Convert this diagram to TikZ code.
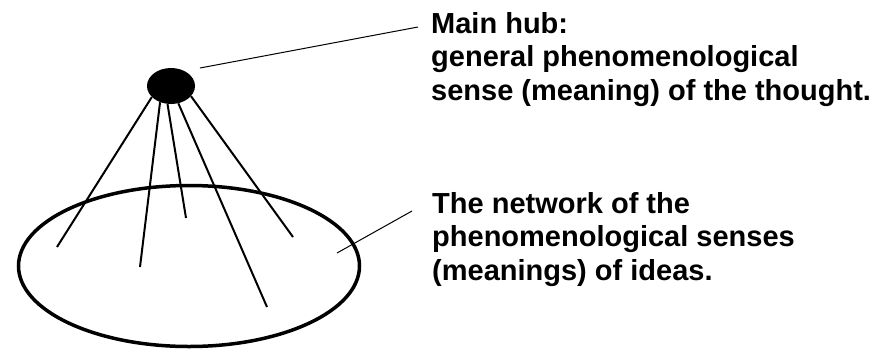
\documentclass[tikz,border=0pt]{standalone}
\usepackage{fontspec}
\setmainfont{Liberation Sans}
\usetikzlibrary{shapes.geometric}
\tikzset{
  spoke/.style = {line width = 2pt},
  leader/.style = {line width = 1pt},
  caption/.style = {font = \fontsize{29}{33.5}\selectfont\bfseries, align = left,
    anchor = north west, inner sep = 0pt}
}
\begin{document}
\begin{tikzpicture}[x = 1pt, y = -1pt]
  \useasboundingbox (0,0) rectangle (885,354);
  % the network and its main hub
  \node [ellipse, draw, line width = 3.5pt, minimum width = 341pt,
    minimum height = 161pt, inner sep = 0pt] (net) at (189,266) {};
  \node [ellipse, fill = black, minimum width = 48pt, minimum height = 36pt,
    inner sep = 0pt] (hub) at (171,86) {};
  % spokes
  \coordinate (e1) at (57,247);
  \coordinate (e2) at (140,267);
  \coordinate (e3) at (186,218);
  \coordinate (e4) at (267,307);
  \coordinate (e5) at (293,237);
  \draw [spoke] (hub.210) -- (e1);
  \draw [spoke] (hub.236) -- (e2);
  \draw [spoke] (hub.259) -- (e3);
  \draw [spoke] (hub.293) -- (e4);
  \draw [spoke] (hub.333) -- (e5);
  % captions
  \node [caption] (hubtext) at (431,12)
    {Main hub:\\general phenomenological\\sense (meaning) of the thought.};
  \node [caption] (nettext) at (432,192)
    {The network of the\\phenomenological senses\\(meanings) of ideas.};
  \coordinate (hubtip) at (200,68);
  \coordinate (hubtag) at (418,27);
  \coordinate (nettip) at (337,253);
  \coordinate (nettag) at (412,211);
  \draw [leader] (hubtip) -- (hubtag);
  \draw [leader] (nettip) -- (nettag);
\end{tikzpicture}
\end{document}
